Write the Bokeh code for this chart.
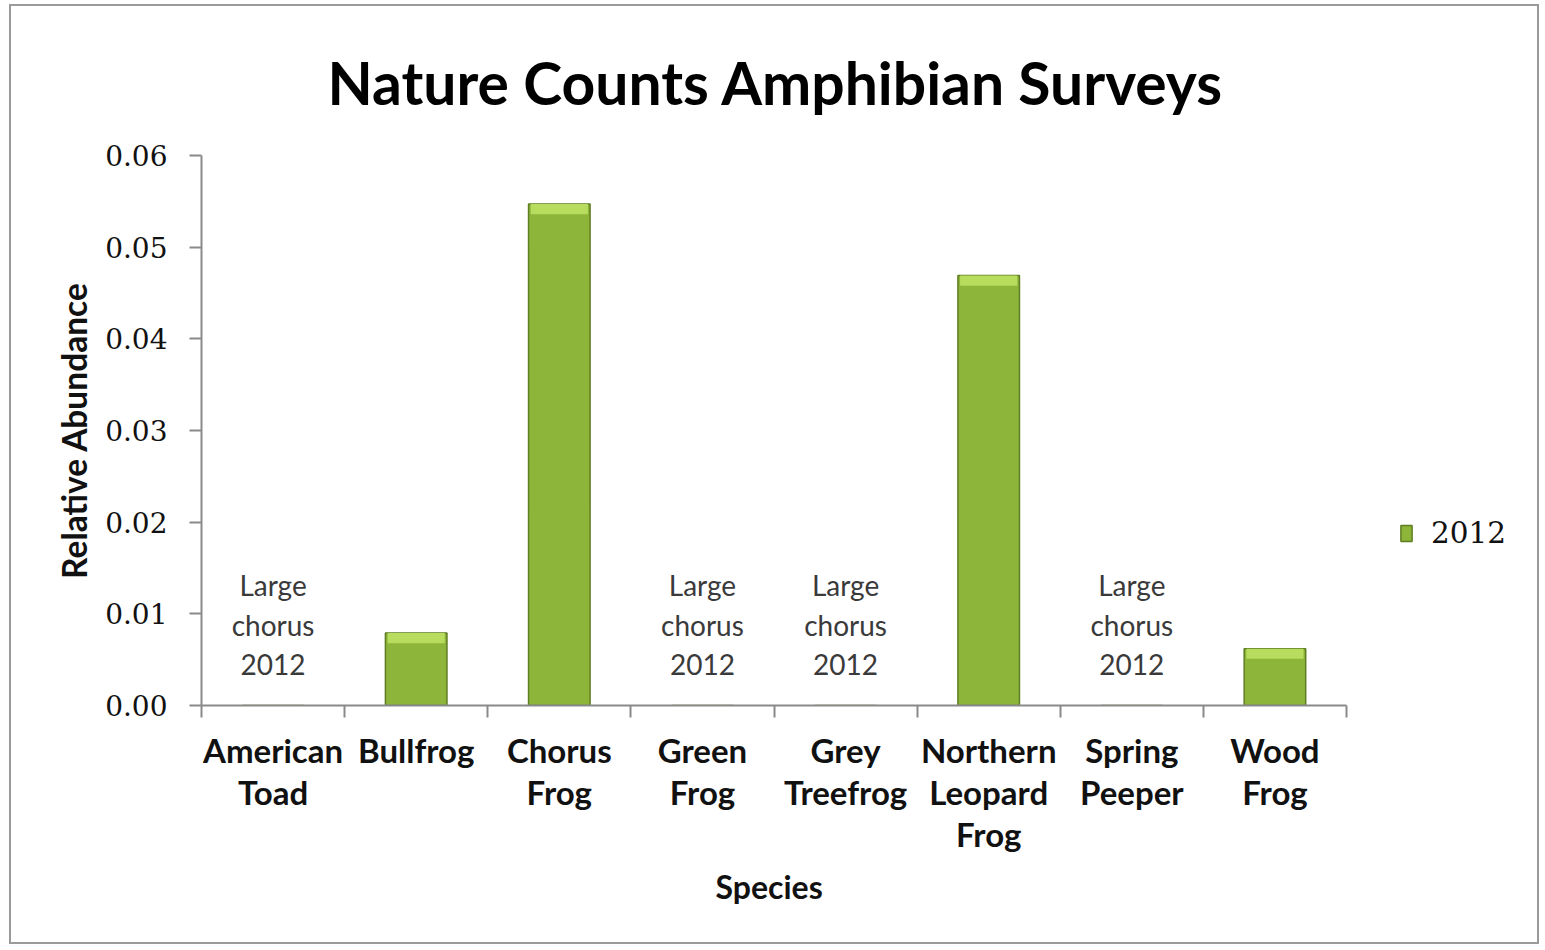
from bokeh.plotting import figure
from bokeh.models import (ColumnDataSource, Range1d, FixedTicker, CustomJSTickFormatter,
                          Legend, LegendItem, Title)
from bokeh.core.properties import value
from bokeh.embed import file_html
from bokeh.resources import INLINE

# ---- data ----
species = ["American\nToad", "Bullfrog", "Chorus\nFrog", "Green\nFrog", "Grey\nTreefrog",
           "Northern\nLeopard\nFrog", "Spring\nPeeper", "Wood\nFrog"]
abundance_2012 = [0.0, 0.0079, 0.0547, 0.0, 0.0, 0.0469, 0.0, 0.0062]
note_species = ["American\nToad", "Green\nFrog", "Grey\nTreefrog", "Spring\nPeeper"]
note_text = "Large\nchorus\n2012"
y_ticks = [0.00, 0.01, 0.02, 0.03, 0.04, 0.05, 0.06]
series_name = "2012"
title_text = "Nature Counts Amphibian Surveys"
x_title = "Species"
y_title = "Relative Abundance"

SANS = "Lato"
SERIF = "DejaVu Serif"

n = len(species)
# the plotting frame extends to the right to hold the legend; categories use 1145 px of it
W, H = 1530, 940
LEFT, TOP, FRAME_H = 190, 149, 550
CAT_PX = 1145
FRAME_PX = 1318
x_end = n * FRAME_PX / CAT_PX

idx = {s: i for i, s in enumerate(species)}
xs = [i + 0.5 for i in range(n)]
src = ColumnDataSource(dict(x=xs, top=abundance_2012, name=species))

p = figure(width=W, height=H, output_backend="svg", toolbar_location=None,
           x_range=Range1d(0, x_end), y_range=Range1d(0, 0.06),
           min_border_left=LEFT, min_border_right=W - LEFT - FRAME_PX,
           min_border_top=TOP, min_border_bottom=H - TOP - FRAME_H)
p.styles = {"border": "2px solid #9a9a9a", "margin-left": "9px", "margin-top": "4px"}
p.outline_line_color = None
p.grid.grid_line_color = None
p.background_fill_color = "white"
p.border_fill_color = "white"

bars = p.vbar(x="x", top="top", bottom=0, width=0.43, source=src,
              fill_color="#8cb53a", line_color="#5f7d22", line_width=1.5)
# light bevel on the top of each bar
hl = ColumnDataSource(dict(x=xs, top=abundance_2012,
                           bot=[max(v - 0.0011, 0) if v > 0 else 0 for v in abundance_2012]))
p.vbar(x="x", top="top", bottom="bot", width=0.40, source=hl,
       fill_color="#b7dc5e", line_color=None)

# annotations
nsrc = ColumnDataSource(dict(x=[idx[s] + 0.5 for s in note_species],
                             y=[0.0088] * len(note_species),
                             t=[note_text] * len(note_species)))
p.text(x="x", y="y", text="t", source=nsrc, text_align="center", text_baseline="middle",
       text_font=value(SANS), text_font_size="28px", text_color="#3a3a3a", text_line_height=1.16)

# title
p.title.text = title_text
p.title.align = "left"
p.title.offset = 126
p.title.text_font = SANS
p.title.text_font_style = "bold"
p.title.text_font_size = "58.8px"
p.title.text_color = "#000000"
p.title.standoff = 76

# y axis
ya = p.yaxis[0]
ya.ticker = FixedTicker(ticks=y_ticks)
ya.formatter = CustomJSTickFormatter(code="return tick.toFixed(2)")
ya.axis_line_color = "#8a8a8a"
ya.axis_line_width = 2
ya.major_tick_line_color = "#8a8a8a"
ya.major_tick_line_width = 2
ya.major_tick_out = 12
ya.major_tick_in = 0
ya.minor_tick_line_color = None
ya.major_label_standoff = 22
ya.major_label_text_font = SERIF
ya.major_label_text_font_size = "28px"
ya.major_label_text_color = "#111111"
ya.axis_label = y_title
ya.axis_label_text_font = SANS
ya.axis_label_text_font_style = "bold"
ya.axis_label_text_font_size = "33.5px"
ya.axis_label_text_color = "#111111"
ya.axis_label_standoff = 8

# x axis
xa = p.xaxis[0]
xa.bounds = (0, n)
xa.ticker = FixedTicker(ticks=xs, minor_ticks=list(range(n + 1)))
xa.formatter = CustomJSTickFormatter(args=dict(labels=species),
                                     code="return labels[Math.floor(tick)]")
xa.axis_line_color = "#8a8a8a"
xa.axis_line_width = 2
xa.major_tick_line_color = None
xa.minor_tick_line_color = "#8a8a8a"
xa.minor_tick_line_width = 2
xa.minor_tick_out = 12
xa.minor_tick_in = 0
xa.major_label_standoff = 12
xa.major_label_text_font = SANS
xa.major_label_text_font_style = "bold"
xa.major_label_text_font_size = "33px"
xa.major_label_text_color = "#111111"
xa.major_label_text_line_height = 1.06

p.add_layout(Title(text=x_title, align="left", offset=514, standoff=15,
                   text_font=SANS, text_font_style="bold", text_font_size="32px",
                   text_color="#111111"), "below")

# legend
legend = Legend(items=[LegendItem(label=series_name, renderers=[bars])],
                location=(1198, 155), orientation="vertical",
                label_text_font=SERIF, label_text_font_size="29.5px", label_text_color="#111111",
                glyph_width=14, glyph_height=20, label_standoff=18, padding=0, margin=0,
                border_line_color=None, background_fill_alpha=0)
p.add_layout(legend, "center")

open("out.html", "w").write(file_html(p, INLINE))
